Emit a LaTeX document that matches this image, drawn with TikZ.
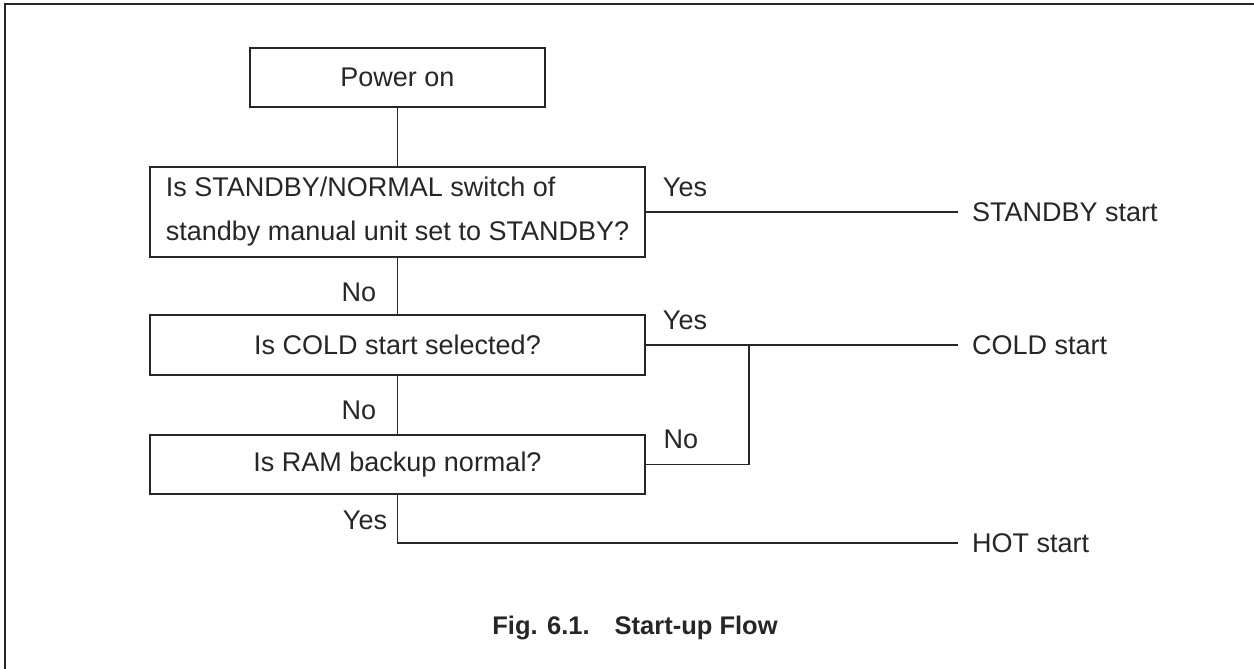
\documentclass[tikz,border=0pt]{standalone}
\usepackage{fontspec}
\setmainfont{Liberation Sans}
\usepackage{tikz}

\tikzset{
  flowbox/.style={draw=black!85, line width=2.5pt, inner sep=0pt, text=black!85,
    font=\fontsize{27}{44}\selectfont},
  result/.style={anchor=west, inner sep=0pt, inner xsep=14pt, text=black!85,
    font=\fontsize{27}{32}\selectfont},
  answer/.style={inner sep=0pt, text=black!85, font=\fontsize{27}{32}\selectfont},
  link/.style={draw=black!85, line width=1.5pt}
}

\begin{document}
\begin{tikzpicture}[x=1pt, y=-1pt]
    \path[use as bounding box] (0,0) rectangle (1254,669);
    \draw[black!85, line width=2pt] (5,669) -- (5,4) -- (1254,4);
    % boxes
    \node[flowbox, minimum width=295pt, minimum height=59pt] (power) at (397.5,77.5) {Power on};
    \node[flowbox, minimum width=495pt, minimum height=90pt, align=left] (standby) at (397.5,212)
        {Is STANDBY/NORMAL switch of\\standby manual unit set to STANDBY?};
    \node[flowbox, minimum width=495pt, minimum height=60pt] (coldsel) at (397.5,345) {Is COLD start selected?};
    \node[flowbox, minimum width=495pt, minimum height=59pt] (ramchk) at (397.5,464.5) {Is RAM backup normal?};
    % results
    \node[result] (sbystart) at (958,212) {STANDBY start};
    \node[result] (coldstart) at (958,345) {COLD start};
    \node[result] (hotstart) at (958,543) {HOT start};
    \coordinate (join) at (749,345);
    % answers
    \node[answer] (yes1) at (685,187) {Yes};
    \node[answer] (no1) at (359,292) {No};
    \node[answer] (yes2) at (685,320) {Yes};
    \node[answer] (no2) at (359,410) {No};
    \node[answer] (no3) at (681,439) {No};
    \node[answer] (yes3) at (365,520) {Yes};
    % connectors
    \path[link] (power) -- (standby);
    \path[link] (standby) -- (coldsel);
    \path[link] (coldsel) -- (ramchk);
    \path[link] (standby.east) -- (sbystart.west);
    \path[link] (coldsel.east) -- (coldstart.west);
    \path[link] (ramchk.east) -| (join);
    \path[link] (ramchk.south) |- (hotstart.west);
    \node[text=black!85, font=\fontsize{25.5}{30}\selectfont\bfseries] (caption) at (635,628)
        {Fig. 6.1.\hspace{25pt}Start-up Flow};
\end{tikzpicture}
\end{document}
